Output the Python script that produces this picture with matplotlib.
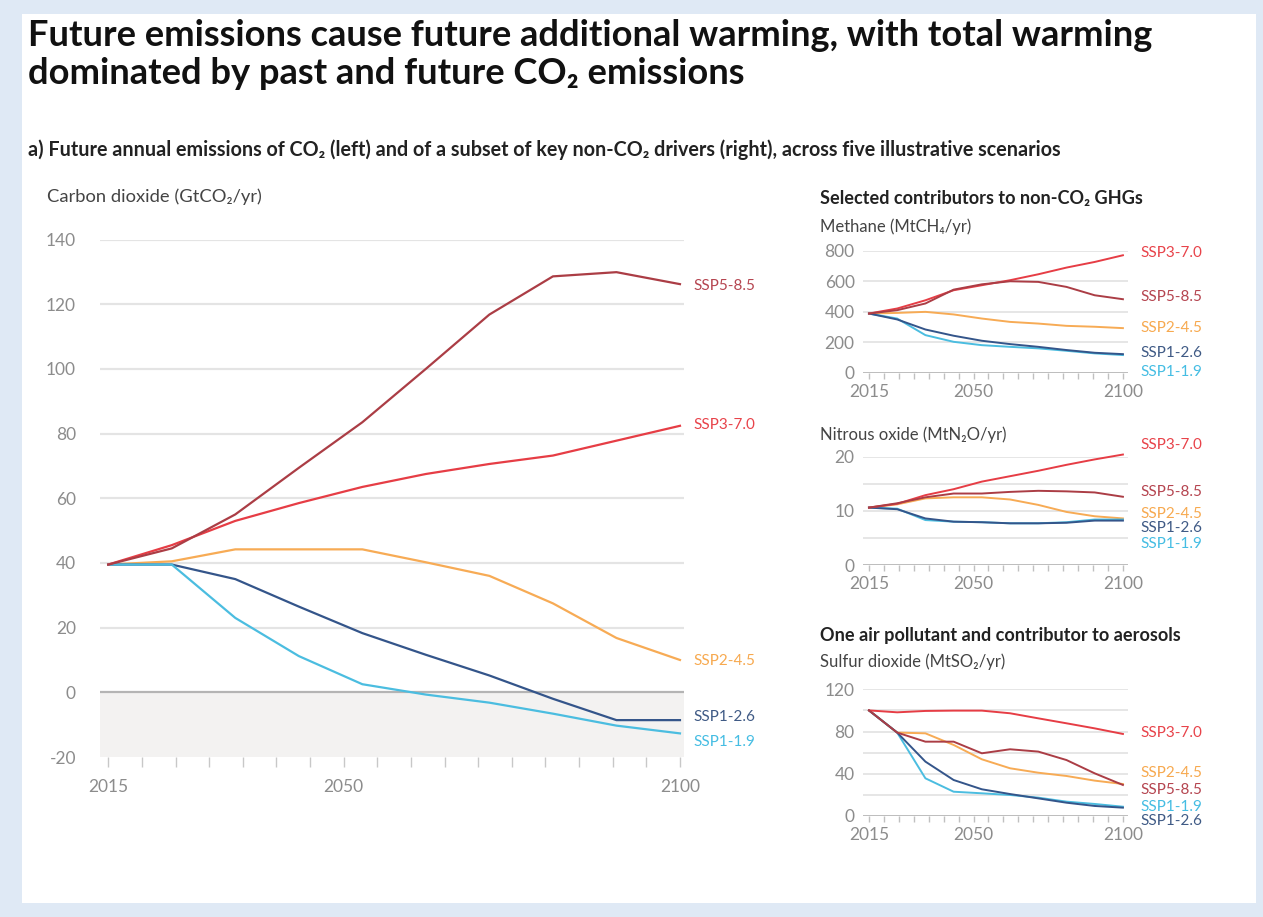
import numpy as np
import matplotlib
matplotlib.use("Agg")
import matplotlib.pyplot as plt

plt.rcParams['font.family'] = ['Lato', 'DejaVu Sans']
plt.rcParams['axes.unicode_minus'] = False

# ---------------- data ----------------
years = [2015, 2020, 2030, 2040, 2050, 2060, 2070, 2080, 2090, 2100]
scenarios = ["SSP1-1.9", "SSP1-2.6", "SSP2-4.5", "SSP3-7.0", "SSP5-8.5"]

co2_ssp119 = [39.5, 39.5, 23.0, 11.2, 2.5, -0.7, -3.2, -6.6, -10.3, -12.7]
co2_ssp126 = [39.5, 39.5, 35.0, 26.5, 18.3, 11.6, 5.2, -2.0, -8.6, -8.6]
co2_ssp245 = [39.5, 40.5, 44.2, 44.2, 44.2, 40.2, 36.0, 27.5, 16.8, 10.0]
co2_ssp370 = [39.5, 45.5, 53.0, 58.5, 63.5, 67.5, 70.6, 73.2, 77.8, 82.4]
co2_ssp585 = [39.5, 44.5, 55.0, 69.4, 83.5, 100.0, 116.8, 128.6, 129.9, 126.2]

ch4_ssp119 = [389, 356, 247, 203, 181, 170, 160, 144, 127, 116]
ch4_ssp126 = [389, 350, 284, 243, 210, 188, 170, 149, 131, 122]
ch4_ssp245 = [389, 393, 400, 383, 356, 334, 323, 308, 302, 293]
ch4_ssp370 = [389, 422, 476, 542, 575, 608, 647, 691, 728, 772]
ch4_ssp585 = [389, 411, 455, 546, 581, 601, 597, 564, 509, 483]

n2o_ssp119 = [10.6, 10.4, 8.3, 8.0, 7.9, 7.7, 7.7, 7.9, 8.4, 8.4]
n2o_ssp126 = [10.6, 10.3, 8.6, 8.0, 7.9, 7.7, 7.7, 7.8, 8.2, 8.2]
n2o_ssp245 = [10.6, 11.2, 12.3, 12.5, 12.5, 12.1, 11.1, 9.8, 9.0, 8.6]
n2o_ssp370 = [10.6, 11.3, 12.9, 14.0, 15.4, 16.4, 17.4, 18.5, 19.5, 20.4]
n2o_ssp585 = [10.6, 11.4, 12.5, 13.2, 13.2, 13.5, 13.7, 13.6, 13.4, 12.6]

so2_ssp119 = [100, 79, 35.7, 23.0, 21.5, 19.9, 17.4, 13.6, 11.4, 8.8]
so2_ssp126 = [100, 79, 51.5, 34.1, 25.3, 20.8, 16.7, 12.6, 9.5, 7.9]
so2_ssp245 = [100, 79, 78.3, 67.3, 53.7, 45.2, 41.0, 37.9, 33.5, 30.3]
so2_ssp370 = [100, 98.2, 99.5, 99.8, 99.8, 97.3, 92.5, 87.8, 83.0, 77.7]
so2_ssp585 = [100, 79, 70.4, 70.4, 59.4, 63.2, 61.0, 53.0, 40.4, 29.4]

colors = {"SSP1-1.9": "#4bbde0", "SSP1-2.6": "#34558a", "SSP2-4.5": "#f7ab55",
          "SSP3-7.0": "#e63d45", "SSP5-8.5": "#ab3d45"}
label_colors = {"SSP1-1.9": "#45bde3", "SSP1-2.6": "#3f5a85", "SSP2-4.5": "#f7a94f",
                "SSP3-7.0": "#e8434a", "SSP5-8.5": "#b54550"}

W, H = 1263, 917
fig = plt.figure(figsize=(W / 100, H / 100), dpi=100)
fig.patch.set_facecolor("#dfe9f5")
# white inner panel
fig.patches.append(plt.Rectangle((22 / W, 1 - 903 / H), (1256 - 22) / W, (903 - 14) / H,
                                 transform=fig.transFigure, facecolor="white",
                                 edgecolor="none", zorder=-10))


def rect(l, t, r, b):
    return [l / W, 1 - b / H, (r - l) / W, (b - t) / H]


def ftext(x, y, s, **kw):
    fig.text(x / W, 1 - y / H, s, **kw)


# The reference places the ten time steps at equal spacing along the axis
xpos = np.linspace(years[0], years[-1], len(years))

grid_c = "#e4e4e4"
tick_c = "#8c8c8c"

# ---------------- titles ----------------
ftext(28, 35, "Future emissions cause future additional warming, with total warming",
      fontsize=26.1, fontweight="bold", color="#111111", va="center")
ftext(28, 74, "dominated by past and future CO\u2082 emissions",
      fontsize=26.1, fontweight="bold", color="#111111", va="center")
ftext(28, 150, "a) Future annual emissions of CO\u2082 (left) and of a subset of key non-CO\u2082 drivers (right), across five illustrative scenarios",
      fontsize=14.2, fontweight="bold", color="#222222", va="center")

# ---------------- main CO2 chart ----------------
ax = fig.add_axes(rect(99.5, 239.5, 684, 757))
ax.patch.set_alpha(0)
ax.set_xlim(2013.7, 2100.6)
ax.set_ylim(-20, 140)
ax.axhspan(-20, 0, color="#f3f2f1", zorder=0, lw=0)
for v in [20, 40, 60, 80, 100, 120, 140]:
    ax.axhline(v, color=grid_c, lw=1.6, zorder=1)
ax.axhline(0, color="#b4b4b4", lw=1.6, zorder=1)
co2 = {"SSP1-1.9": co2_ssp119, "SSP1-2.6": co2_ssp126, "SSP2-4.5": co2_ssp245,
       "SSP3-7.0": co2_ssp370, "SSP5-8.5": co2_ssp585}
for s in ["SSP2-4.5", "SSP1-2.6", "SSP1-1.9", "SSP3-7.0", "SSP5-8.5"]:
    ax.plot(xpos, co2[s], color=colors[s], lw=1.6, zorder=3, solid_joinstyle="round")
for sp in ax.spines.values():
    sp.set_visible(False)
ax.set_yticks([-20, 0, 20, 40, 60, 80, 100, 120, 140])
ax.set_xticks([2015, 2050, 2100])
ax.set_xticks(np.arange(2015, 2101, 5), minor=True)
ax.tick_params(axis="y", length=0, pad=17, labelsize=12.5, labelcolor=tick_c)
ax.tick_params(axis="x", which="both", direction="out", length=7, width=1, color="#c8c8c8",
               labelsize=12.5, labelcolor=tick_c, pad=9)
ftext(47, 197, "Carbon dioxide (GtCO\u2082/yr)", fontsize=13.2, color="#444444", va="center")
main_labels = {"SSP5-8.5": 286, "SSP3-7.0": 425, "SSP2-4.5": 661, "SSP1-2.6": 717, "SSP1-1.9": 742}
for s, y in main_labels.items():
    ftext(693, y, s, fontsize=11, color=label_colors[s], va="center")


# ---------------- right panels ----------------
def small_panel(t, b, ylim, yticks, grid, data, labels, ylabel, ylabel_y):
    a = fig.add_axes(rect(863, t, 1128, b))
    a.patch.set_alpha(0)
    a.set_xlim(2013, 2101.7)
    a.set_ylim(*ylim)
    for v in grid:
        a.axhline(v, color=grid_c, lw=1.3, zorder=1)
    a.axhline(0, color="#b8b8b8", lw=1.3, zorder=1)
    for s in ["SSP2-4.5", "SSP1-1.9", "SSP1-2.6", "SSP3-7.0", "SSP5-8.5"]:
        a.plot(xpos, data[s], color=colors[s], lw=1.4, zorder=3, clip_on=False)
    for sp in a.spines.values():
        sp.set_visible(False)
    a.set_yticks(yticks)
    a.set_xticks([2015, 2050, 2100])
    a.set_xticks(np.arange(2015, 2101, 5), minor=True)
    a.tick_params(axis="y", length=0, pad=6, labelsize=12.5, labelcolor=tick_c)
    a.tick_params(axis="x", which="both", direction="out", length=4, width=1, color="#c0c0c0",
                  labelsize=12.5, labelcolor=tick_c, pad=4)
    ftext(820, ylabel_y, ylabel, fontsize=12, color="#444444", va="center")
    for s, y in labels.items():
        ftext(1140, y, s, fontsize=11, color=label_colors[s], va="center")
    return a


ftext(820, 198, "Selected contributors to non-CO\u2082 GHGs", fontsize=13.1,
      fontweight="bold", color="#222222", va="center")
small_panel(251, 372.7, (0, 800), [0, 200, 400, 600, 800], [200, 400, 600, 800],
            {"SSP1-1.9": ch4_ssp119, "SSP1-2.6": ch4_ssp126, "SSP2-4.5": ch4_ssp245,
             "SSP3-7.0": ch4_ssp370, "SSP5-8.5": ch4_ssp585},
            {"SSP3-7.0": 252.7, "SSP5-8.5": 297, "SSP2-4.5": 328, "SSP1-2.6": 353, "SSP1-1.9": 372},
            "Methane (MtCH\u2084/yr)", 227)

small_panel(456.7, 565, (0, 20), [0, 10, 20], [5, 10, 15, 20],
            {"SSP1-1.9": n2o_ssp119, "SSP1-2.6": n2o_ssp126, "SSP2-4.5": n2o_ssp245,
             "SSP3-7.0": n2o_ssp370, "SSP5-8.5": n2o_ssp585},
            {"SSP3-7.0": 445, "SSP5-8.5": 491.7, "SSP2-4.5": 514, "SSP1-2.6": 528, "SSP1-1.9": 544},
            "Nitrous oxide (MtN\u2082O/yr)", 435)

ftext(820, 635, "One air pollutant and contributor to aerosols", fontsize=13.1,
      fontweight="bold", color="#222222", va="center")
small_panel(689.3, 816, (0, 120), [0, 40, 80, 120], [20, 40, 60, 80, 100, 120],
            {"SSP1-1.9": so2_ssp119, "SSP1-2.6": so2_ssp126, "SSP2-4.5": so2_ssp245,
             "SSP3-7.0": so2_ssp370, "SSP5-8.5": so2_ssp585},
            {"SSP3-7.0": 732.7, "SSP2-4.5": 773, "SSP5-8.5": 790, "SSP1-1.9": 806.7, "SSP1-2.6": 820.7},
            "Sulfur dioxide (MtSO\u2082/yr)", 662)

fig.savefig("out.png", dpi=100, facecolor=fig.get_facecolor())
